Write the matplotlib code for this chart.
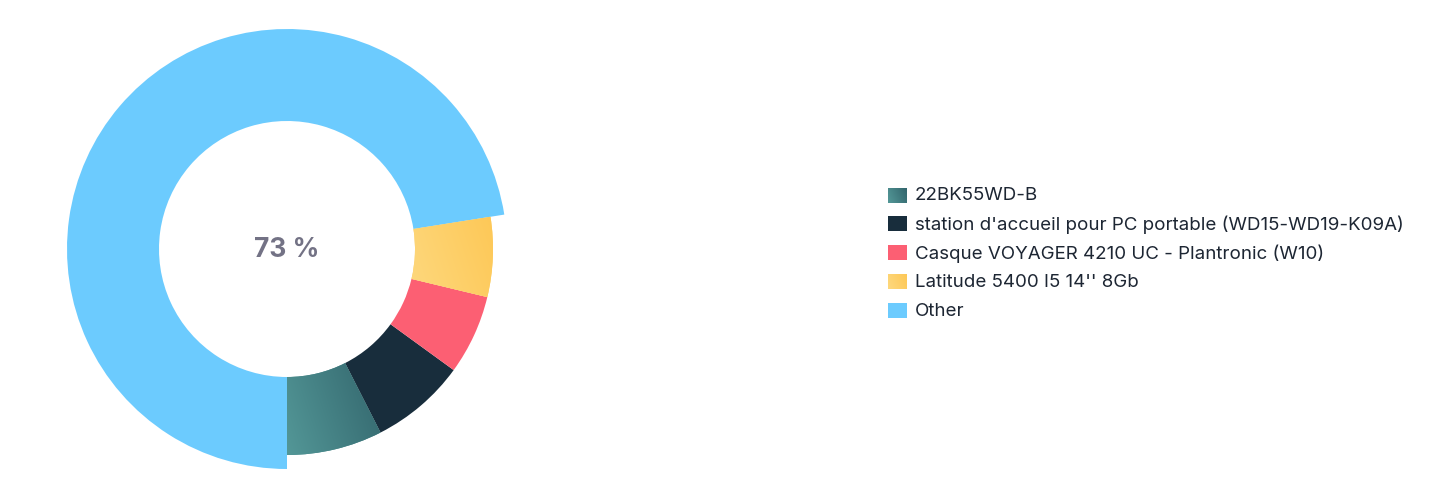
import numpy as np
import matplotlib
matplotlib.use("Agg")
import matplotlib.pyplot as plt
from matplotlib.patches import Rectangle

# data
labels = ["22BK55WD-B",
          "station d'accueil pour PC portable (WD15-WD19-K09A)",
          "Casque VOYAGER 4210 UC - Plantronic (W10)",
          "Latitude 5400 I5 14'' 8Gb",
          "Other"]
counts = [12, 12, 10, 10, 116]
colors = ["#4a8c8d", "#182d3c", "#fc5f73", "#fecf68", "#6ccbfe"]
# gradient ends (light, dark) for the two shaded slices
gradients = {0: ("#539797", "#33666d"), 3: ("#fdd87d", "#fec857")}
center_label = "73 %"

W, H = 1447, 502
plt.rcParams['font.family'] = ['Inter', 'DejaVu Sans']

fig = plt.figure(figsize=(W / 100, H / 100), dpi=100)
ax = fig.add_axes([0, 0, 1, 1])

cx, cy = 287, H - 250
r_in = 128
r_out = 206

wedges, _ = ax.pie(counts, colors=colors, startangle=-90, counterclock=True,
                   radius=r_out, center=(cx, cy), frame=True,
                   wedgeprops=dict(width=r_out - r_in, linewidth=0))

# highlighted slice drawn a bit larger
wedges[-1].set_radius(220)
wedges[-1].set_width(220 - r_in)


def grad_image(c1, c2, n=64):
    a = np.array(matplotlib.colors.to_rgb(c1))
    b = np.array(matplotlib.colors.to_rgb(c2))
    xx, yy = np.meshgrid(np.linspace(0, 1, n), np.linspace(0, 1, n))
    t = np.clip(0.75 * xx + 0.25 * (1 - yy), 0, 1)[..., None]
    return a * (1 - t) + b * t


for i, (c1, c2) in gradients.items():
    w = wedges[i]
    bb = w.get_path().get_extents(w.get_patch_transform())
    img = ax.imshow(grad_image(c1, c2), extent=(bb.x0, bb.x1, bb.y0, bb.y1),
                    origin='upper', zorder=3, interpolation='bilinear')
    img.set_clip_path(w)

ax.text(cx, cy, center_label, ha='center', va='center', fontsize=19,
        fontweight='bold', color='#737285', zorder=5)

# legend
lx, ly0, step = 888, H - 196, 28.8
for i, lab in enumerate(labels):
    y = ly0 - i * step
    if i in gradients:
        c1, c2 = gradients[i]
        ax.imshow(grad_image(c1, c2, 16), extent=(lx, lx + 19, y - 7.5, y + 7.5),
                  origin='upper', zorder=4, interpolation='bilinear')
    else:
        ax.add_patch(Rectangle((lx, y - 7.5), 19, 15, facecolor=colors[i],
                               linewidth=0, zorder=4))
    ax.text(lx + 27, y, lab, ha='left', va='center', fontsize=13.5,
            color='#1d2633', zorder=5)

ax.set_xlim(0, W)
ax.set_ylim(0, H)
ax.set_aspect('equal')
ax.axis('off')
fig.savefig("out.png", dpi=100)
